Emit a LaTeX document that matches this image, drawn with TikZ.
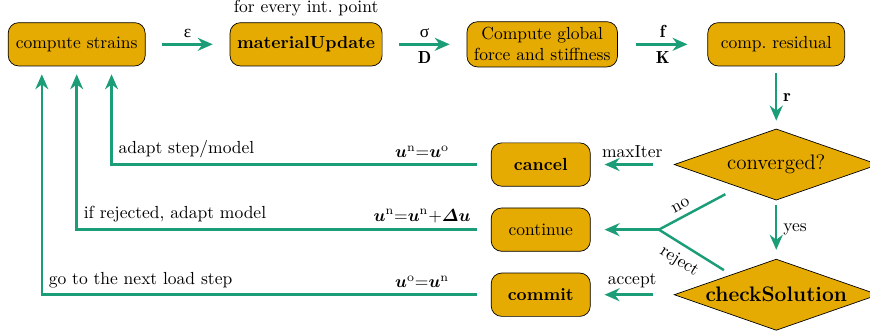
\documentclass[tikz,border=0pt]{standalone}
\usepackage{amsmath}
\usepackage{amssymb}
\usepackage{fontspec}
\newfontfamily\grkfont{Liberation Serif}
\usepackage{tikz}
\usetikzlibrary{arrows.meta,shapes,positioning,calc}

\definecolor{boxgold}{HTML}{E6AB02}
\definecolor{flowteal}{HTML}{1B9E77}
\newcommand{\bu}{\boldsymbol{u}}

\begin{document}
\begin{tikzpicture}[
    node distance=1.69cm,
    box/.style={draw, rounded corners=6pt, fill=boxgold, minimum width=2.75cm, minimum height=0.87cm, inner xsep=4pt, align=center},
    smallbox/.style={box, minimum width=1.99cm},
    decision/.style={draw, diamond, fill=boxgold, minimum width=4.1cm, minimum height=1.43cm, inner sep=0pt},
    arrow/.style={-{Stealth[length=3mm,width=2.6mm]}, line width=1.4pt, draw=flowteal},
    line/.style={line width=1.4pt, draw=flowteal}
]
\useasboundingbox (0,0) rectangle (17.47,-6.67);

% top row
\node[box] at (1.54,-0.89) (strains) {compute strains};
\node[box, right=of strains, font=\bfseries, label={[font=\normalfont]above:for every int.\ point}] (matup) {materialUpdate};
\node[box, right=of matup] (global) {Compute global\\force and stiffness};
\node[box, right=1.8cm of global] (resid) {comp.\ residual};

% decisions
\node[decision, below=1.25cm of resid, label={center:{\large converged?}}] (conv) {};
\node[decision, below=1.17cm of conv, label={center:{\large\bfseries checkSolution}}] (check) {};

% outcomes
\node[smallbox, left=1.67cm of conv, font=\bfseries] (cancel) {cancel};
\node[smallbox, left=1.67cm of check, font=\bfseries] (commit) {commit};
\node[smallbox] at ($(cancel)!0.5!(commit)$) (cont) {continue};
\coordinate[right=1.37cm of cont.east] (split);

\draw[arrow, shorten <=0.34cm, shorten >=0.34cm] (strains) -- node[above] {\grkfont ε} (matup);
\draw[arrow, shorten <=0.34cm, shorten >=0.34cm] (matup) -- node[above] {\grkfont σ} node[below] {$\mathbf{D}$} (global);
\draw[arrow, shorten <=0.36cm, shorten >=0.4cm] (global) -- node[above] {$\mathbf{f}$} node[below] {$\mathbf{K}$} (resid);
\draw[arrow, shorten <=0.14cm, shorten >=0.16cm] (resid) -- node[right] {$\mathbf{r}$} (conv);
\draw[arrow, shorten <=0.1cm, shorten >=0.18cm] (conv) -- node[right] {yes} (check);
\draw[arrow, shorten <=0.42cm, shorten >=0.28cm] (conv) -- node[above] {maxIter} (cancel);
\draw[arrow, shorten <=0.42cm, shorten >=0.28cm] (check) -- node[above] {accept} (commit);
\draw[line, shorten <=0.3cm] (conv.211) -- node[sloped, above, pos=0.66] {no} (split);
\draw[line, shorten <=0.17cm] (check.156) -- node[sloped, below=1pt, pos=0.6] {reject} (split);
\draw[arrow, shorten >=0.28cm] (split) -- (cont);

% feedback loops
\draw[arrow, shorten <=0.28cm, shorten >=0.16cm] (cancel.west) -- ++(-1.38,0) node[above] {$\bu^{\mathrm{n}}{=}\bu^{\mathrm{o}}$}
    -| node[pos=0.5, above right] {adapt step/model} ([xshift=0.7cm]strains.south);
\draw[arrow, shorten <=0.28cm, shorten >=0.16cm] (cont.west) -- ++(-1.38,0) node[above] {$\bu^{\mathrm{n}}{=}\bu^{\mathrm{n}}{+}\boldsymbol{\varDelta}\bu$}
    -| node[pos=0.5, above right] {if rejected, adapt model} (strains.south);
\draw[arrow, shorten <=0.28cm, shorten >=0.16cm] (commit.west) -- ++(-1.38,0) node[above] {$\bu^{\mathrm{o}}{=}\bu^{\mathrm{n}}$}
    -| node[pos=0.5, above right] {go to the next load step} ([xshift=-0.7cm]strains.south);

\end{tikzpicture}
\end{document}
